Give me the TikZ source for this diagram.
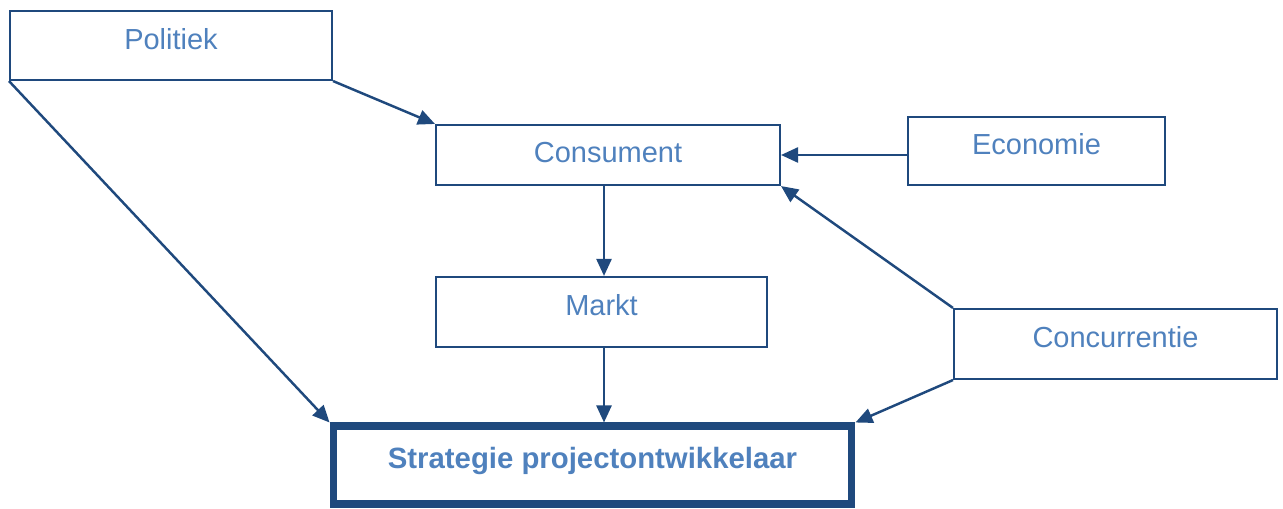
\documentclass[tikz,border=0pt]{standalone}
\usepackage{fontspec}
\setmainfont{Liberation Sans}
\usepackage{xcolor}
\usepackage{tikz}
\usetikzlibrary{arrows.meta}

\definecolor{lijn}{RGB}{31,73,125}
\definecolor{tekst}{RGB}{79,129,189}

\begin{document}
\begin{tikzpicture}[x=0.02cm, y=-0.02cm,
    box/.style={draw=lijn, line width=1.2pt, inner xsep=0pt, inner ysep=0pt, anchor=base,
        text=tekst, font=\fontsize{16.5}{19}\selectfont},
    pijl/.style={draw=lijn, line width=1.4pt, -{Triangle[length=0.34cm, width=0.3cm]}}]
            \useasboundingbox (0,0) rectangle (1283,509);
            % Boxes
            \node[box, minimum width=6.44cm, text height=0.78cm, text depth=0.6cm] (politiek) at (171,50) {Politiek};
            \node[box, minimum width=6.88cm, text height=0.76cm, text depth=0.44cm] (consument) at (608,163) {Consument};
            \node[box, minimum width=5.14cm, text height=0.76cm, text depth=0.6cm] (economie) at (1036.5,155) {Economie};
            \node[box, minimum width=6.62cm, text height=0.78cm, text depth=0.62cm] (markt) at (601.5,316) {Markt};
            \node[box, minimum width=6.46cm, text height=0.78cm, text depth=0.62cm] (concurrentie) at (1115.5,348) {Concurrentie};
            \node[box, line width=4pt, minimum width=10.38cm, text height=0.84cm, text depth=0.72cm,
                font=\fontsize{16.7}{19}\selectfont\bfseries] (strategie) at (592.5,468) {Strategie projectontwikkelaar};
            % Arrows
            \draw[pijl] (politiek.south east) -- (consument.north west);
            \draw[pijl] (politiek.south west) -- (strategie.north west);
            \draw[pijl] (economie.west |- consument.east) -- (consument.east);
            \draw[pijl] ([xshift=-0.08cm]consument.south) -- ([xshift=-0.08cm]consument.south |- markt.north);
            \draw[pijl] ([xshift=0.05cm]markt.south) -- ([xshift=0.05cm]markt.south |- strategie.north);
            \draw[pijl] (concurrentie.north west) -- (consument.south east);
            \draw[pijl] (concurrentie.south west) -- (strategie.north east);
        \end{tikzpicture}
\end{document}
